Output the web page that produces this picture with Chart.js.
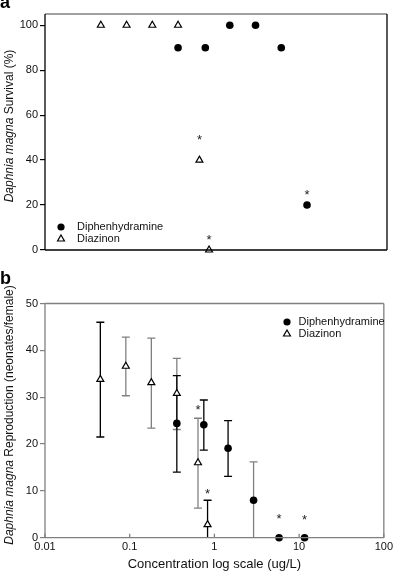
<!DOCTYPE html>
<html>
<head>
<meta charset="utf-8">
<script src="https://cdn.jsdelivr.net/npm/chart.js@4.4.0/dist/chart.umd.min.js"></script>
<style>
body { margin: 0; background: #fff; width: 396px; height: 578px; position: relative; overflow: hidden; }
.box { position: absolute; left: 0; width: 396px; }
#wa { top: 0; height: 270px; }
#wb { top: 270px; height: 308px; }
.lbl { position: absolute; left: 0; font: bold 18px "Liberation Sans", Arial, sans-serif; color: #000; line-height: 20px; }
</style>
</head>
<body>
<div class="box" id="wa"><canvas id="chartA"></canvas></div>
<div class="box" id="wb"><canvas id="chartB"></canvas></div>
<div class="lbl" style="top:-8px">a</div>
<div class="lbl" style="top:268px">b</div>
<script>
// tick values
const xTicks = [0.01, 0.1, 1, 10, 100];
const survTicks = [0, 20, 40, 60, 80, 100];
const reproTicks = [0, 10, 20, 30, 40, 50];

// concentrations (ug/L)
const diazConc = [0.045, 0.09, 0.18, 0.36, 0.64, 0.83];
const diphConc = [0.36, 0.75, 1.45, 2.9, 5.8, 11.6];

// panel a - survival (%)
const diazSurvival = [100, 100, 100, 100, 40, 0];
const diphSurvival = [90, 90, 100, 100, 90, 20];

// panel b - reproduction (neonates/female)
const diazRepro = [33.8, 36.6, 33.1, 30.8, 16.0, 2.8];
const diazReproHigh = [46.0, 42.8, 42.6, 38.3, 25.5, 8.0];
const diazReproLow = [21.5, 30.3, 23.4, 23.1, 6.3, -2.4];
const diphRepro = [24.4, 24.1, 19.1, 8.0, 0, 0];
const diphReproHigh = [34.6, 29.4, 25.0, 16.2, null, null];
const diphReproLow = [14.0, 18.7, 13.1, -0.2, null, null];

// significance marks (*) [conc, value]
const survStars = [[0.64, 50.4], [0.83, 5.9], [11.6, 26.2]];
const reproStars = [[0.64, 28.0], [0.83, 10.0], [5.8, 4.8], [11.6, 4.5]];

const GRAY = '#808080';
const FONT = '"Liberation Sans", Arial, sans-serif';
const diazErrColor = ['#000', GRAY, GRAY, GRAY, GRAY, '#000'];
const diphErrColor = ['#000', '#000', '#000', GRAY, '#000', '#000'];

function pts(xs, ys) {
  return xs.map((x, i) => ({ x: x, y: ys[i] }));
}

function diphSet(data) {
  return { label: 'Diphenhydramine', data: data, pointStyle: 'circle', pointRadius: 3.8,
    pointBackgroundColor: '#000', pointBorderColor: '#000', pointBorderWidth: 0, showLine: false, clip: false };
}
function diazSet(data) {
  return { label: 'Diazinon', data: data, pointStyle: 'triangle', pointRadius: 4,
    pointBackgroundColor: '#fff', pointBorderColor: '#000', pointBorderWidth: 1.2, showLine: false, clip: false };
}

function drawYTitle(ctx, x, y, it, rest) {
  ctx.save();
  ctx.translate(x, y);
  ctx.rotate(-Math.PI / 2);
  const fi = 'italic 12px ' + FONT, fn = '12px ' + FONT;
  ctx.font = fi; const w1 = ctx.measureText(it).width;
  ctx.font = fn; const w2 = ctx.measureText(rest).width;
  const sx = -(w1 + w2) / 2;
  ctx.textBaseline = 'middle';
  ctx.fillStyle = '#111';
  ctx.font = fi; ctx.fillText(it, sx, 0);
  ctx.font = fn; ctx.fillText(rest, sx + w1, 0);
  ctx.restore();
}

function drawLegend(ctx, x, y, gap, tx) {
  ctx.save();
  ctx.fillStyle = '#000';
  ctx.beginPath(); ctx.arc(x, y, 3.6, 0, Math.PI * 2); ctx.fill();
  const ty = y + gap, r = 4;
  ctx.beginPath();
  ctx.moveTo(x, ty - r);
  ctx.lineTo(x + r * 0.866, ty + r / 2);
  ctx.lineTo(x - r * 0.866, ty + r / 2);
  ctx.closePath();
  ctx.fillStyle = '#fff'; ctx.fill();
  ctx.strokeStyle = '#000'; ctx.lineWidth = 1.2; ctx.stroke();
  ctx.fillStyle = '#111';
  ctx.font = '11px ' + FONT;
  ctx.textBaseline = 'middle';
  ctx.fillText('Diphenhydramine', x + tx, y);
  ctx.fillText('Diazinon', x + tx, ty);
  ctx.restore();
}

const starsPlugin = {
  id: 'stars',
  afterDatasetsDraw(chart, args, opts) {
    const { ctx, scales: { x, y } } = chart;
    ctx.save();
    ctx.fillStyle = '#222';
    ctx.font = '13px ' + FONT;
    ctx.textAlign = 'center';
    ctx.textBaseline = 'alphabetic';
    opts.list.forEach(s => {
      ctx.fillText('*', x.getPixelForValue(s[0]), y.getPixelForValue(s[1]) + 7.5);
    });
    ctx.restore();
  }
};

const errPlugin = {
  id: 'errbars',
  beforeDatasetsDraw(chart, args, opts) {
    if (!opts.sets) return;
    const { ctx, chartArea, scales: { x, y } } = chart;
    ctx.save();
    ctx.beginPath();
    ctx.rect(chartArea.left, chartArea.top - 20, chartArea.width, chartArea.height + 20);
    ctx.clip();
    opts.sets.forEach(s => {
      s.conc.forEach((c, i) => {
        if (s.high[i] == null) return;
        const px = x.getPixelForValue(c);
        const hi = y.getPixelForValue(s.high[i]);
        const lo = y.getPixelForValue(s.low[i]);
        ctx.strokeStyle = s.colors[i];
        ctx.lineWidth = 1.3;
        ctx.beginPath();
        ctx.moveTo(px, hi); ctx.lineTo(px, lo);
        ctx.moveTo(px - 4, hi); ctx.lineTo(px + 4, hi);
        if (s.low[i] > 0) { ctx.moveTo(px - 4, lo); ctx.lineTo(px + 4, lo); }
        ctx.stroke();
      });
    });
    ctx.restore();
  }
};

const framePlugin = {
  id: 'frame',
  afterDraw(chart, args, o) {
    const { ctx, chartArea: a } = chart;
    const side = (c, w, x1, y1, x2, y2) => {
      ctx.strokeStyle = c; ctx.lineWidth = w;
      ctx.beginPath(); ctx.moveTo(x1, y1); ctx.lineTo(x2, y2); ctx.stroke();
    };
    ctx.save();
    side(o.top, 1.5, a.left, a.top, a.right, a.top);
    side(o.right, 1.3, a.right, a.top, a.right, a.bottom);
    side(o.bottom, 1.3, a.left, a.bottom, a.right, a.bottom);
    side(o.left, 1.3, a.left, a.top, a.left, a.bottom);
    if (o.innerTicks) {
      const x = chart.scales.x;
      xTicks.forEach(v => side(GRAY, 1.3, x.getPixelForValue(v), a.bottom, x.getPixelForValue(v), a.bottom - 4));
    }
    ctx.restore();
    drawYTitle(ctx, 10, o.titleY, 'Daphnia magna', o.title);
    drawLegend(ctx, o.legX, o.legY, 12, o.legText);
  }
};

function yAxis(ticks, max, color) {
  return {
    type: 'linear', min: 0, max: max,
    afterFit: s => { s.width = 45; },
    afterBuildTicks: s => { s.ticks = ticks.map(v => ({ value: v })); },
    grid: { drawOnChartArea: false, color: color, tickLength: 5, lineWidth: 1.2 },
    border: { display: false },
    ticks: { color: '#111', padding: 2, font: { family: FONT, size: 11 } }
  };
}

new Chart(document.getElementById('chartA'), {
  type: 'scatter',
  data: { datasets: [diphSet(pts(diphConc, diphSurvival)), diazSet(pts(diazConc, diazSurvival))] },
  options: {
    responsive: true, maintainAspectRatio: false, animation: false,
    layout: { padding: { left: 0, top: 14, right: 9, bottom: 20 } },
    scales: {
      x: { type: 'logarithmic', min: 0.01, max: 100, afterFit: s => { s.height = 0; },
        ticks: { display: false }, grid: { display: false }, border: { display: false } },
      y: yAxis(survTicks, 105, '#000')
    },
    plugins: {
      legend: { display: false }, tooltip: { enabled: false },
      stars: { list: survStars },
      errbars: {},
      frame: { top: GRAY, right: '#000', bottom: '#000', left: '#000', title: ' Survival (%)', titleY: 126,
        legX: 61, legY: 227, legText: 16 }
    }
  },
  plugins: [errPlugin, starsPlugin, framePlugin]
});

new Chart(document.getElementById('chartB'), {
  type: 'scatter',
  data: { datasets: [diphSet(pts(diphConc, diphRepro)), diazSet(pts(diazConc, diazRepro))] },
  options: {
    responsive: true, maintainAspectRatio: false, animation: false,
    layout: { padding: { left: 0, top: 33.5, right: 9, bottom: 0 } },
    scales: {
      x: { type: 'logarithmic', min: 0.01, max: 100,
        afterFit: s => { s.height = 40.3; },
        afterBuildTicks: s => { s.ticks = xTicks.map(v => ({ value: v })); },
        grid: { display: false, drawTicks: false }, border: { display: false },
        ticks: { autoSkip: false, maxRotation: 0, padding: 3, color: '#111', font: { family: FONT, size: 11 },
          callback: v => String(v) },
        title: { display: true, text: 'Concentration log scale (ug/L)', color: '#111',
          font: { family: FONT, size: 13 }, padding: { top: 6, bottom: 6 } }
      },
      y: yAxis(reproTicks, 50, GRAY)
    },
    plugins: {
      legend: { display: false }, tooltip: { enabled: false },
      stars: { list: reproStars },
      errbars: { sets: [
        { conc: diazConc, high: diazReproHigh, low: diazReproLow, colors: diazErrColor },
        { conc: diphConc, high: diphReproHigh, low: diphReproLow, colors: diphErrColor }
      ] },
      frame: { top: GRAY, right: GRAY, bottom: GRAY, left: GRAY, innerTicks: true,
        title: ' Reproduction (neonates/female)', titleY: 145, legX: 287, legY: 52, legText: 11.5 }
    }
  },
  plugins: [errPlugin, starsPlugin, framePlugin]
});
</script>
</body>
</html>
